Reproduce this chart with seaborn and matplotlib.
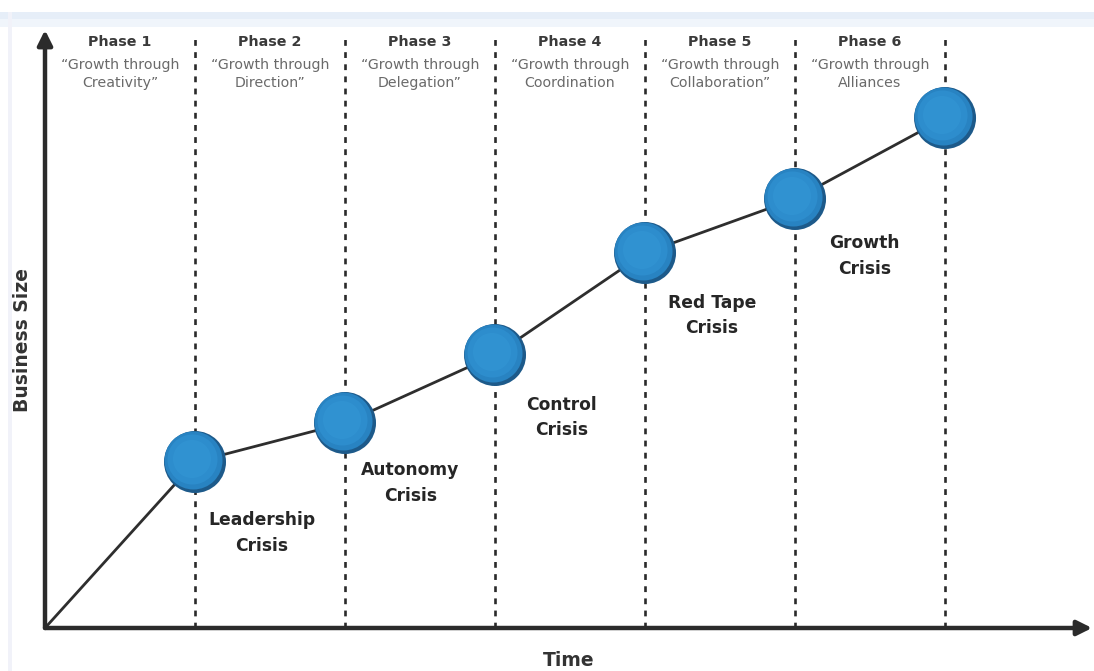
import numpy as np
import pandas as pd
import matplotlib
matplotlib.use("Agg")
import matplotlib.pyplot as plt
import matplotlib.transforms as mtransforms
from matplotlib.patches import Rectangle
import seaborn as sns

# Greiner-style growth model: business size across six phases
phase_names = ["Phase 1", "Phase 2", "Phase 3", "Phase 4", "Phase 5", "Phase 6"]
phase_themes = [
    "\u201cGrowth through\nCreativity\u201d",
    "\u201cGrowth through\nDirection\u201d",
    "\u201cGrowth through\nDelegation\u201d",
    "\u201cGrowth through\nCoordination",
    "\u201cGrowth through\nCollaboration\u201d",
    "\u201cGrowth through\nAlliances",
]
crisis_labels = ["Leadership\nCrisis", "Autonomy\nCrisis", "Control\nCrisis",
                 "Red Tape\nCrisis", "Growth\nCrisis"]
time = [0, 1, 2, 3, 4, 5, 6]
business_size = [0.0, 1.66, 2.05, 2.73, 3.75, 4.29, 5.10]

sns.set_theme(style="white")
plt.rcParams["font.family"] = ["DejaVu Sans"]

W, H = 1094, 671
fig = plt.figure(figsize=(W / 100, H / 100), dpi=100)
fig.patch.set_facecolor("white")
ax = fig.add_axes([0, 0, 1, 1])
ax.set_xlim(-0.30, 6.993)
ax.set_ylim(-0.43, 6.28)
ax.axis("off")

# faint frame band along the top and left edges
fig.patches.append(Rectangle((0.0, 1 - 27 / H), 1.0, 15 / H, transform=fig.transFigure,
                             facecolor="#f0f5fb", edgecolor="none", zorder=0))
fig.patches.append(Rectangle((0.0, 1 - 19 / H), 1.0, 7 / H, transform=fig.transFigure,
                             facecolor="#e6eef8", edgecolor="none", zorder=0))
fig.patches.append(Rectangle((8 / W, 0.0), 4 / W, 1 - 12 / H, transform=fig.transFigure,
                             facecolor="#f1f2f9", edgecolor="none", zorder=0))

df = pd.DataFrame({"time": time, "size": business_size})
top = 5.98

# phase boundaries
ax.vlines(time[1:], 0, top - 0.08, colors="#2a2a2a", linestyles=(0, (2.2, 2.4)),
          linewidth=1.9, zorder=1)

# axes arrows
arrow = dict(arrowstyle="-|>", color="#2b2b2b", lw=3.2, mutation_scale=22,
             shrinkA=0, shrinkB=0)
ax.annotate("", xy=(0, top), xytext=(0, 0), arrowprops=arrow, zorder=3)
ax.annotate("", xy=(6.98, 0), xytext=(0, 0), arrowprops=arrow, zorder=3)

# growth path
sns.lineplot(data=df, x="time", y="size", ax=ax, color="#2e2e2e", linewidth=2.0,
             legend=False, zorder=2)

# shaded milestone spheres: dark rim, body, soft centre
pts = df.iloc[1:]
sns.scatterplot(data=pts, x="time", y="size", ax=ax, s=(62 * 0.72) ** 2, color="#1d5a8a",
                edgecolor="none", legend=False, zorder=4)
sns.scatterplot(data=pts, x="time", y="size", ax=ax, s=(58 * 0.72) ** 2, color="#2883c2",
                edgecolor="none", legend=False, zorder=5)
sns.scatterplot(data=pts, x="time", y="size", ax=ax, s=(50 * 0.72) ** 2, color="#2f8fcf",
                edgecolor="none", alpha=0.85, legend=False, zorder=6)
sns.scatterplot(data=pts, x="time", y="size", ax=ax, s=(38 * 0.72) ** 2, color="#3396d5",
                edgecolor="none", alpha=0.6, legend=False, zorder=6)
cols = ax.collections[-3:]
for c, (dx, dy) in zip(cols, [(-1.5, 1.5), (-2.5, 2.5), (-3.0, 3.0)]):
    c.set_offset_transform(mtransforms.offset_copy(ax.transData, fig=fig, x=dx, y=dy, units="dots"))

# phase headers
for i, (name, theme) in enumerate(zip(phase_names, phase_themes)):
    xc = time[i] + 0.5
    ax.text(xc, 5.86, name, ha="center", va="center", fontsize=10.3,
            fontweight="bold", color="#3a3a3a", zorder=7)
    ax.text(xc, 5.54, theme, ha="center", va="center", fontsize=10.2,
            color="#6a6a6a", linespacing=1.4, zorder=7)

# crisis annotations beside each milestone
label_offsets = [(48, -51), (47, -43), (48, -45), (48, -45), (50, -41)]
for t, s, lab, off in zip(time[1:], business_size[1:], crisis_labels, label_offsets):
    ax.annotate(lab, xy=(t, s), xytext=off, textcoords="offset points",
                ha="center", va="center", fontsize=12.3, fontweight="bold",
                color="#262626", linespacing=1.55, zorder=7)

ax.text(-0.153, 2.88, "Business Size", rotation=90, ha="center", va="center",
        fontsize=13.5, fontweight="bold", color="#333333")
ax.text(3.49, -0.32, "Time", ha="center", va="center", fontsize=13.5,
        fontweight="bold", color="#333333")

fig.savefig("out.png", dpi=100)
